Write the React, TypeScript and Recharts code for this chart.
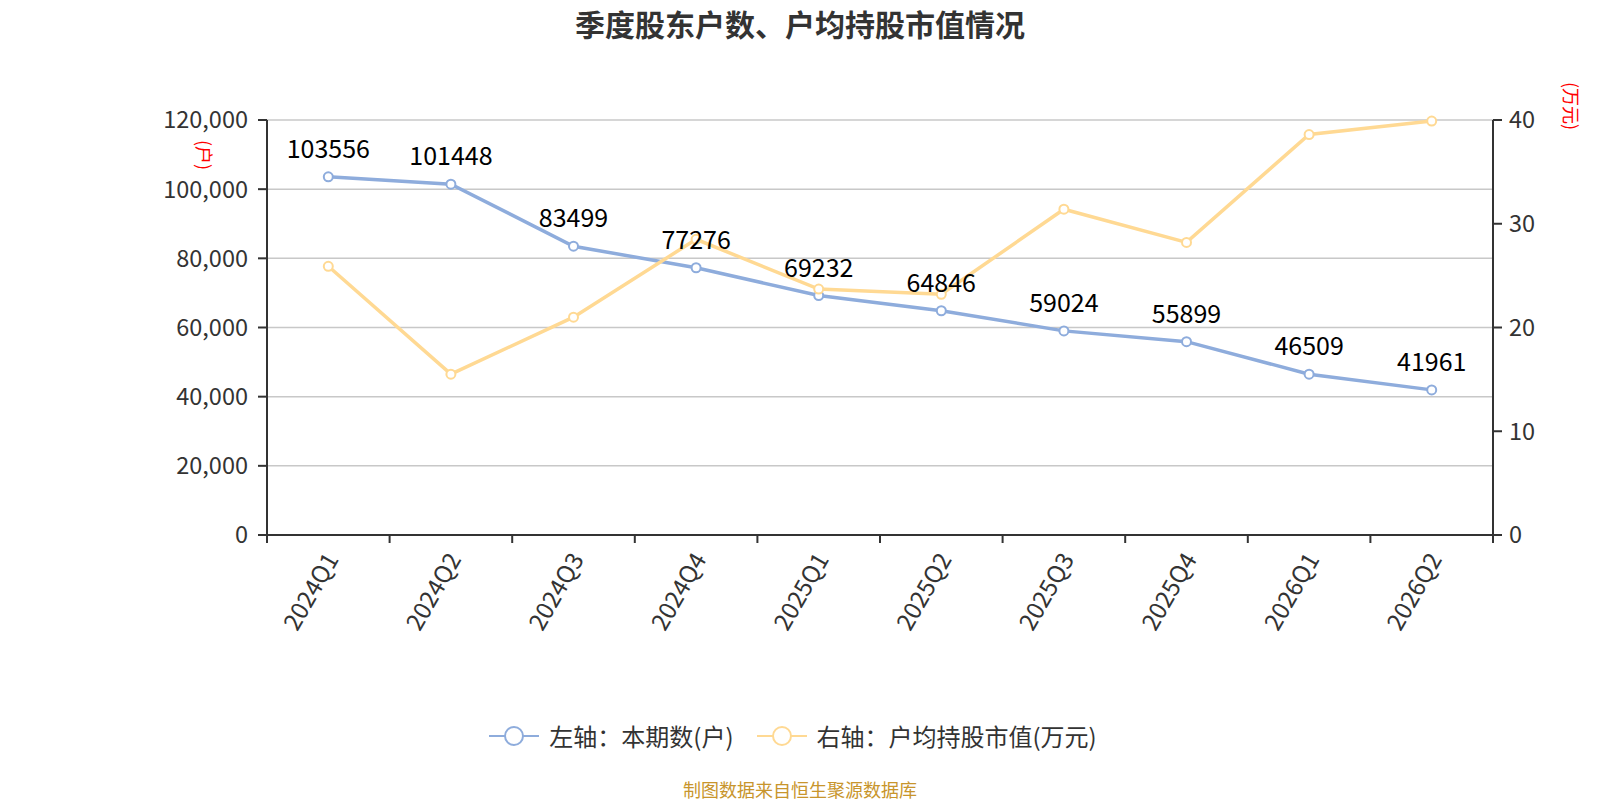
import React from 'react';
import { LineChart, Line, XAxis, YAxis, CartesianGrid, Legend } from 'recharts';

const quarters = ['2024Q1', '2024Q2', '2024Q3', '2024Q4', '2025Q1', '2025Q2', '2025Q3', '2025Q4', '2026Q1', '2026Q2'];
const holders = [103556, 101448, 83499, 77276, 69232, 64846, 59024, 55899, 46509, 41961];
const avgValue = [25.9, 15.5, 21.0, 28.5, 23.7, 23.2, 31.4, 28.2, 38.6, 39.9];
const leftTicks = [0, 20000, 40000, 60000, 80000, 100000, 120000];
const rightTicks = [0, 10, 20, 30, 40];
const seriesNames = ['左轴：本期数(户)', '右轴：户均持股市值(万元)'];

const BLUE = '#8eacdc';
const YELLOW = '#ffd993';
const AXIS = '#333';
const FONT = "'Noto Sans CJK SC', 'Noto Sans', sans-serif";

const W = 1600;
const H = 800;
const margin = { top: 120, right: 47, bottom: 135, left: 187 };
const LEFT_W = 80;
const RIGHT_W = 60;
const PLOT_W = W - margin.left - margin.right - LEFT_W - RIGHT_W;
const BAND = PLOT_W / quarters.length;

const data = quarters.map((q, i) => ({ quarter: q, holders: holders[i], avgValue: avgValue[i] }));

const QuarterTick = (props: any) => {
  const { x, y, payload, index } = props;
  const axisY = y - 8;
  return (
    <g>
      <line x1={x - BAND / 2} y1={axisY} x2={x - BAND / 2} y2={axisY + 8} stroke={AXIS} strokeWidth={2} />
      {index === quarters.length - 1 && (
        <line x1={x + BAND / 2} y1={axisY} x2={x + BAND / 2} y2={axisY + 8} stroke={AXIS} strokeWidth={2} />
      )}
      <text
        x={x + 2}
        y={axisY + 19}
        transform={`rotate(-60, ${x + 2}, ${axisY + 19})`}
        textAnchor="end"
        dominantBaseline="central"
        fontSize={24}
        fill={AXIS}
      >
        {payload.value}
      </text>
    </g>
  );
};

const ValueLabel = (props: any) => {
  const { x, y, value } = props;
  return (
    <text x={x} y={y - 30} textAnchor="middle" dominantBaseline="central" fontSize={25} fill="#000">
      {value}
    </text>
  );
};

const unitLabel = (text: string, dx: number, dy: number) => (props: any) => {
  const vb = props.viewBox;
  const cx = vb.x + dx;
  const cy = vb.y + dy;
  return (
    <text
      x={cx}
      y={cy}
      transform={`rotate(90, ${cx}, ${cy})`}
      textAnchor="middle"
      dominantBaseline="central"
      fontSize={18}
      fill="#ff0000"
    >
      {text}
    </text>
  );
};

const LegendContent = () => (
  <div style={{ display: 'flex', justifyContent: 'center', alignItems: 'center', height: 30, paddingRight: 14 }}>
    {[BLUE, YELLOW].map((c, i) => (
      <div key={i} style={{ display: 'flex', alignItems: 'center', marginLeft: i ? 23 : 0 }}>
        <svg width={50} height={24}>
          <line x1={0} y1={12} x2={50} y2={12} stroke={c} strokeWidth={2} />
          <circle cx={25} cy={12} r={9} fill="#fff" stroke={c} strokeWidth={2} />
        </svg>
        <span style={{ marginLeft: 10, fontSize: 24, color: AXIS, lineHeight: '30px' }}>{seriesNames[i]}</span>
      </div>
    ))}
  </div>
);

export default function App() {
  return (
    <div style={{ position: 'absolute', left: 0, top: 0, width: W, height: H, fontFamily: FONT, background: '#fff' }}>
      <div
        style={{
          position: 'absolute', top: 0, left: 0, width: W, height: 46, lineHeight: '46px',
          textAlign: 'center', fontSize: 30, fontWeight: 'bold', color: '#333',
        }}
      >
        季度股东户数、户均持股市值情况
      </div>
      <LineChart width={W} height={H} data={data} margin={margin}>
        <CartesianGrid yAxisId="left" vertical={false} stroke="#c8c8c8" strokeWidth={1.5} />
        <XAxis
          dataKey="quarter"
          interval={0}
          padding={{ left: BAND / 2, right: BAND / 2 }}
          tickLine={false}
          tickSize={8}
          tickMargin={0}
          height={100}
          axisLine={{ stroke: AXIS, strokeWidth: 2 }}
          tick={<QuarterTick />}
        />
        <YAxis
          yAxisId="left"
          orientation="left"
          width={LEFT_W}
          domain={[0, 120000]}
          ticks={leftTicks}
          tickFormatter={(v: number) => v.toLocaleString('en-US')}
          tickSize={9}
          tickMargin={10}
          tick={{ fill: AXIS, fontSize: 23.5 }}
          tickLine={{ stroke: AXIS, strokeWidth: 2 }}
          axisLine={{ stroke: AXIS, strokeWidth: 2 }}
          label={{ content: unitLabel('(户)', 18, 35) }}
        />
        <YAxis
          yAxisId="right"
          orientation="right"
          width={RIGHT_W}
          domain={[0, 40]}
          ticks={rightTicks}
          tickSize={9}
          tickMargin={7}
          tick={{ fill: AXIS, fontSize: 23.5 }}
          tickLine={{ stroke: AXIS, strokeWidth: 2 }}
          axisLine={{ stroke: AXIS, strokeWidth: 2 }}
          label={{ content: unitLabel('(万元)', RIGHT_W + 19, -14) }}
        />
        <Legend
          verticalAlign="bottom"
          content={<LegendContent />}
          wrapperStyle={{ top: 721, bottom: 'auto', left: 0, width: W, height: 30 }}
        />
        <Line
          yAxisId="left"
          dataKey="holders"
          name={seriesNames[0]}
          stroke={BLUE}
          strokeWidth={3.5}
          dot={{ r: 4.5, fill: '#fff', stroke: BLUE, strokeWidth: 2 }}
          activeDot={false}
          label={<ValueLabel />}
          isAnimationActive={false}
        />
        <Line
          yAxisId="right"
          dataKey="avgValue"
          name={seriesNames[1]}
          stroke={YELLOW}
          strokeWidth={3.5}
          dot={{ r: 4.5, fill: '#fff', stroke: YELLOW, strokeWidth: 2 }}
          activeDot={false}
          isAnimationActive={false}
        />
      </LineChart>
      <div
        style={{
          position: 'absolute', top: 778, left: 0, width: W, lineHeight: '22px',
          textAlign: 'center', fontSize: 18, color: '#c8952c',
        }}
      >
        制图数据来自恒生聚源数据库
      </div>
    </div>
  );
}
